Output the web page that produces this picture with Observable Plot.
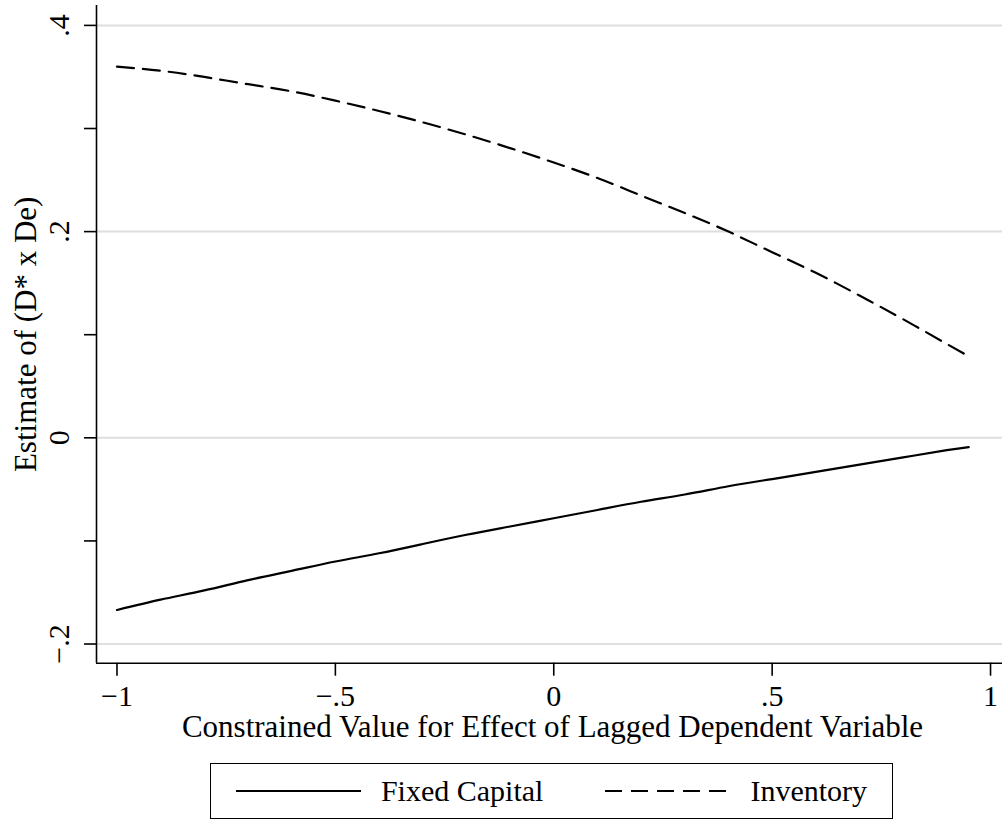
<!DOCTYPE html>
<html>
<head>
<meta charset="utf-8">
<script src="https://cdn.jsdelivr.net/npm/d3@7"></script>
<script src="https://cdn.jsdelivr.net/npm/@observablehq/plot@0.6"></script>
<style>
  html, body { margin: 0; padding: 0; background: #fff; }
  #wrap { width: 1002px; font-family: "Liberation Serif", "DejaVu Serif", serif; }
  #legend {
    box-sizing: border-box;
    margin: 13px 0 0 210px;
    width: 683px; height: 56px;
    border: 1.5px solid #000;
    display: flex; align-items: center; justify-content: center;
    font-size: 30px; color: #000;
  }
  .item { display: flex; align-items: center; }
  .gap { width: 62px; }
</style>
</head>
<body>
<div id="wrap">
  <div id="chart"></div>
  <div id="legend"></div>
</div>
<script>
// ---- data ----
const xValues = [-1, -0.9, -0.8, -0.7, -0.6, -0.5, -0.4, -0.3, -0.2, -0.1, 0, 0.1, 0.2, 0.3, 0.4, 0.5, 0.6, 0.7, 0.8, 0.9, 0.95];
const fixedCapital = [-0.167, -0.157, -0.148, -0.138, -0.129, -0.120, -0.112, -0.103, -0.094, -0.086, -0.078, -0.070, -0.062, -0.055, -0.047, -0.040, -0.033, -0.026, -0.019, -0.012, -0.009];
const inventory = [0.360, 0.356, 0.350, 0.343, 0.336, 0.327, 0.317, 0.306, 0.294, 0.281, 0.267, 0.252, 0.235, 0.218, 0.200, 0.180, 0.160, 0.138, 0.115, 0.091, 0.079];
const seriesNames = ["Fixed Capital", "Inventory"];

const xTicks = [-1, -0.5, 0, 0.5, 1];
const xTickLabels = ["\u22121", "\u2212.5", "0", ".5", "1"];
const yTicksMajor = [-0.2, 0, 0.2, 0.4];
const yTickLabels = ["\u2212.2", "0", ".2", ".4"];
const yTicksAll = [-0.2, -0.1, 0, 0.1, 0.2, 0.3, 0.4];
const xTitle = "Constrained Value for Effect of Lagged Dependent Variable";
const yTitle = "Estimate of (D* x De)";

const xDomain = [-1.0469, 1.0274];
const yDomain = [-0.2186, 0.4193];

const fixedData = xValues.map((x, i) => ({x, y: fixedCapital[i]}));
const invData = xValues.map((x, i) => ({x, y: inventory[i]}));

const font = "Liberation Serif, Times New Roman, serif";
const dash = "17,9";

const chart = Plot.plot({
  width: 1002,
  height: 750,
  marginLeft: 96,
  marginRight: 0,
  marginTop: 5,
  marginBottom: 87.3,
  style: {fontFamily: font, background: "#fff", color: "#000"},
  x: {domain: xDomain, axis: null},
  y: {domain: yDomain, axis: null},
  marks: [
    Plot.gridY(yTicksMajor, {stroke: "#dedede", strokeOpacity: 1, strokeWidth: 2}),
    Plot.ruleX([xDomain[0]], {stroke: "#000", strokeWidth: 1.6}),
    Plot.ruleY([yDomain[0]], {stroke: "#000", strokeWidth: 1.6}),
    Plot.axisY({ticks: yTicksAll, tickSize: 12, tickFormat: () => "", label: null, strokeWidth: 1.6}),
    Plot.axisX({ticks: xTicks, tickSize: 13, tickFormat: () => "", label: null, strokeWidth: 1.6}),
    Plot.text(yTicksMajor, {y: d => d, text: (d, i) => yTickLabels[i], frameAnchor: "left", dx: -28, rotate: -90, textAnchor: "middle", lineAnchor: "bottom", fontSize: 30, fill: "#000"}),
    Plot.text(xTicks, {x: d => d, text: (d, i) => xTickLabels[i], frameAnchor: "bottom", dy: 43, textAnchor: "middle", lineAnchor: "bottom", fontSize: 30, fill: "#000"}),
    Plot.text([xTitle], {text: d => d, frameAnchor: "bottom", dx: 3, dy: 74, lineAnchor: "bottom", fontSize: 31, fill: "#000"}),
    Plot.text([yTitle], {text: d => d, frameAnchor: "left", dx: -61, rotate: -90, textAnchor: "middle", lineAnchor: "bottom", fontSize: 31, fill: "#000"}),
    Plot.line(fixedData, {x: "x", y: "y", stroke: "#000", strokeWidth: 2.2, curve: "natural"}),
    Plot.line(invData, {x: "x", y: "y", stroke: "#000", strokeWidth: 2.2, strokeDasharray: dash, curve: "natural"})
  ]
});
document.getElementById("chart").appendChild(chart);

// legend
const legend = document.getElementById("legend");
const styles = [{dash: null}, {dash: dash}];
seriesNames.forEach((name, i) => {
  if (i > 0) { const g = document.createElement("div"); g.className = "gap"; legend.appendChild(g); }
  const item = document.createElement("div");
  item.className = "item";
  const svgNS = "http://www.w3.org/2000/svg";
  const sw = document.createElementNS(svgNS, "svg");
  sw.setAttribute("width", 125); sw.setAttribute("height", 6);
  sw.style.marginRight = "20px";
  const ln = document.createElementNS(svgNS, "line");
  ln.setAttribute("x1", 0); ln.setAttribute("x2", 125);
  ln.setAttribute("y1", 3); ln.setAttribute("y2", 3);
  ln.setAttribute("stroke", "#000"); ln.setAttribute("stroke-width", 2.2);
  if (styles[i].dash) ln.setAttribute("stroke-dasharray", styles[i].dash);
  sw.appendChild(ln);
  const t = document.createElement("span");
  t.textContent = name;
  item.appendChild(sw); item.appendChild(t);
  legend.appendChild(item);
});
</script>
</body>
</html>
